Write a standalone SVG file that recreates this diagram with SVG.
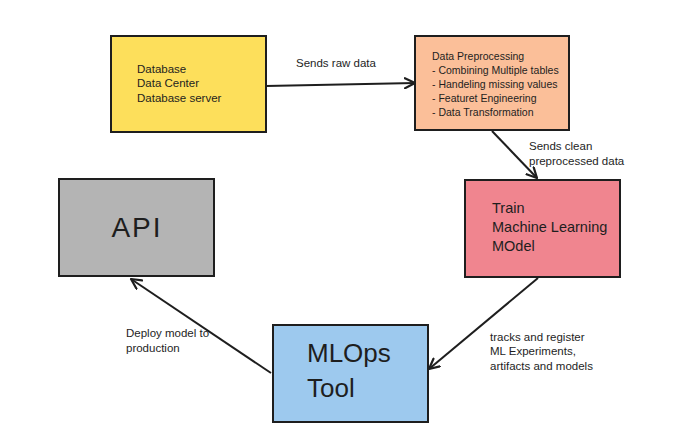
<svg xmlns="http://www.w3.org/2000/svg" width="692" height="445" viewBox="0 0 692 445">
<defs>
<marker id="arr" viewBox="0 0 12 12" refX="11" refY="6" markerWidth="12" markerHeight="12" markerUnits="userSpaceOnUse" orient="auto">
<path d="M1,1 L11,6 L1,11" fill="none" stroke="#1e1e1e" stroke-width="2.2" stroke-linecap="round" stroke-linejoin="round"/>
</marker>
</defs>
<style>
.box{stroke:#1e1e1e;stroke-width:2}
.t{font-family:"Liberation Sans",Arial,sans-serif;fill:#1e1e1e}
.s{font-size:11.5px}
.xs{font-size:10.5px}
.m{font-size:14.5px}
.l{font-size:26px}
.edge{stroke:#1e1e1e;stroke-width:2;fill:none;marker-end:url(#arr)}
</style>
<rect width="692" height="445" fill="#ffffff"/>
<g id="database">
<rect class="box" x="111" y="36" width="155" height="96" fill="#fddf5b"/>
<text class="t s" x="137" y="73">Database</text>
<text class="t s" x="137" y="87">Data Center</text>
<text class="t s" x="137" y="102">Database server</text>
</g>
<g id="preprocessing">
<rect class="box" x="415" y="36" width="154" height="94" fill="#fbbf99"/>
<text class="t xs" x="432" y="60">Data Preprocessing</text>
<text class="t xs" x="432" y="74">- Combining Multiple tables</text>
<text class="t xs" x="432" y="88">- Handeling missing values</text>
<text class="t xs" x="432" y="102">- Featuret Engineering</text>
<text class="t xs" x="432" y="116">- Data Transformation</text>
</g>
<g id="train">
<rect class="box" x="465" y="180" width="155" height="97" fill="#f0858f"/>
<text class="t m" x="492" y="213">Train</text>
<text class="t m" x="492" y="232">Machine Learning</text>
<text class="t m" x="492" y="251">MOdel</text>
</g>
<g id="api">
<rect class="box" x="59" y="179" width="155" height="97" fill="#b4b4b4"/>
<text class="t" x="137" y="237" font-size="28" text-anchor="middle" letter-spacing="2">API</text>
</g>
<g id="mlops">
<rect class="box" x="273" y="325" width="155" height="97" fill="#9dc9ee"/>
<text class="t l" x="307" y="362">MLOps</text>
<text class="t l" x="307" y="397">Tool</text>
</g>
<g id="connectors">
<path class="edge" d="M266,86 L415,83"/>
<path class="edge" d="M492,131 L537,178"/>
<path class="edge" d="M538,278 L429,369"/>
<path class="edge" d="M271,373 L131,279"/>
<text class="t s" x="296" y="67">Sends raw data</text>
<text class="t s" x="529" y="150">Sends clean</text>
<text class="t s" x="529" y="165">preprocessed data</text>
<text class="t s" x="490" y="341">tracks and register</text>
<text class="t s" x="490" y="355">ML Experiments,</text>
<text class="t s" x="490" y="370">artifacts and models</text>
<text class="t s" x="126" y="337">Deploy model to</text>
<text class="t s" x="126" y="352">production</text>
</g>
</svg>
